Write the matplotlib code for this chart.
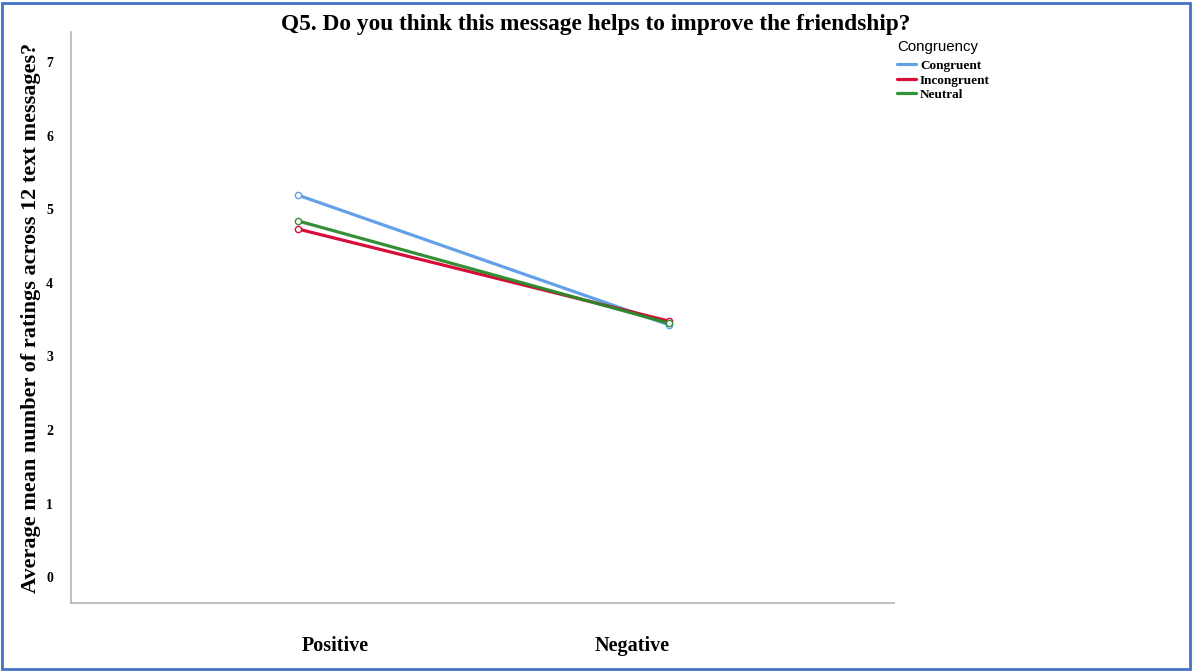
import matplotlib
matplotlib.use("Agg")
import matplotlib.pyplot as plt
from matplotlib.patches import Rectangle

# Mean ratings for each message valence, split by congruency condition
valence = ["Positive", "Negative"]
congruent = [5.19, 3.43]
incongruent = [4.73, 3.48]
neutral = [4.84, 3.45]
series_names = ["Congruent", "Incongruent", "Neutral"]
series_colors = ["#5b9be6", "#d6002e", "#2a8a2a"]
y_ticks = [0, 1, 2, 3, 4, 5, 6, 7]

fig = plt.figure(figsize=(11.92, 6.71), dpi=100)
ax = fig.add_axes([0.0596, 0.1013, 0.6905, 0.851])

serif = "Liberation Serif"
xs = list(range(len(valence)))
for name, vals, col in zip(series_names, [congruent, incongruent, neutral], series_colors):
    ax.plot(xs, vals, color=col, lw=2.3, label=name, solid_capstyle="round",
            marker="o", markersize=4.5, markerfacecolor="white",
            markeredgecolor=col, markeredgewidth=1.0, alpha=0.95)

ax.set_xlim(-0.614, 1.608)
ax.set_ylim(-0.353, 7.41)
# category labels sit slightly inward from the plotted points
label_offset = 0.1
ax.set_xticks([xs[0] + label_offset, xs[-1] - label_offset])
ax.set_xticklabels(valence, fontfamily=serif, fontweight="bold", fontsize=14.5)
ax.set_yticks(y_ticks)
ax.set_yticklabels([str(t) for t in y_ticks], fontfamily=serif, fontweight="bold", fontsize=10)
ax.tick_params(axis="x", length=0, pad=24)
ax.tick_params(axis="y", length=0, pad=13)

for side in ["top", "right"]:
    ax.spines[side].set_visible(False)
for side in ["left", "bottom"]:
    ax.spines[side].set_color("#b5b5b5")
    ax.spines[side].set_linewidth(1.2)

ax.set_ylabel("Average mean number of ratings across 12 text messages?",
              fontfamily=serif, fontweight="bold", fontsize=16)
ax.yaxis.set_label_coords(-0.037, 0.5)

fig.text(0.5, 0.964, "Q5. Do you think this message helps to improve the friendship?",
         ha="center", va="center", fontfamily=serif, fontweight="bold", fontsize=16.8)

leg = ax.legend(loc="upper left", bbox_to_anchor=(0.997, 0.996), frameon=False,
                title="Congruency", prop={"family": serif, "weight": "bold", "size": 9.5},
                handlelength=1.45, handletextpad=0.3, labelspacing=0.17,
                borderaxespad=0.2, borderpad=0.2)
leg.get_title().set_fontfamily("Liberation Sans")
leg.get_title().set_fontsize(10.8)
leg._legend_box.align = "left"
leg._legend_box.sep = 4.5
for h in leg.get_lines():
    h.set_marker("")
    h.set_linewidth(2.3)

# Blue frame around the whole figure
fig.patches.append(Rectangle((0.002, 0.003), 0.996, 0.993, transform=fig.transFigure,
                             fill=False, edgecolor="#4472c4", linewidth=2.0))

fig.savefig("out.png", dpi=100)
